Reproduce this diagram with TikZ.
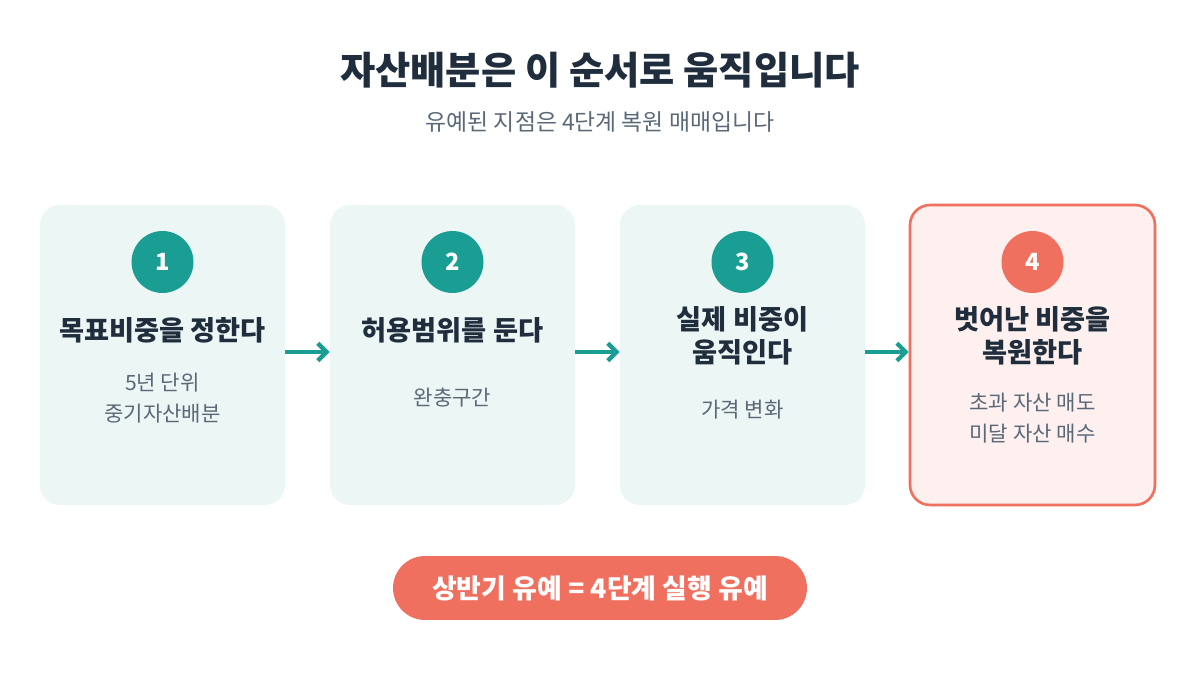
\documentclass[tikz,border=0pt]{standalone}
\usepackage{fontspec}
\setmainfont{Noto Sans CJK KR}
\usetikzlibrary{arrows.meta,positioning}
\definecolor{navy}{HTML}{1F2D3D}
\definecolor{teal}{HTML}{1A9E94}
\definecolor{coral}{HTML}{F07060}
\definecolor{softteal}{HTML}{EBF6F5}
\definecolor{softcoral}{HTML}{FDF0EE}
\definecolor{slate}{HTML}{5A6878}
\begin{document}
\begin{tikzpicture}[
    x=0.02cm, y=-0.02cm,
    card/.style={rectangle, rounded corners=0.4cm, minimum width=4.9cm, minimum height=6cm, fill=softteal},
    hotcard/.style={card, fill=softcoral, draw=coral, line width=1.5pt},
    badge/.style={circle, fill=teal, minimum size=1.24cm, inner sep=0pt, text=white, font=\fontsize{13.5}{15}\selectfont\bfseries},
    head/.style={text=navy, align=center, font=\fontsize{15.5}{19}\selectfont\bfseries},
    body/.style={text=slate, align=center, font=\fontsize{12}{18}\selectfont},
    arrow/.style={-{Straight Barb[length=5pt,width=10pt]}, teal, line width=2.5pt}
]
    \useasboundingbox (0,0) rectangle (1200,675);
    \fill[white] (0,0) rectangle (1200,675);

    % --- Title ---
    \node[text=navy, font=\fontsize{21.8}{24}\selectfont\bfseries] (title) at (600,70) {자산배분은 이 순서로 움직입니다};
    \node[text=slate, font=\fontsize{13}{15}\selectfont] (sub) at (600,122) {유예된 지점은 4단계 복원 매매입니다};

    % --- Cards ---
    \node[card] (c1) at (162.5,355) {};
    \node[card] (c2) at (452.5,355) {};
    \node[card] (c3) at (742.5,355) {};
    \node[hotcard] (c4) at (1032.5,355) {};

    \node[badge] (b1) at (162.5,262) {1};
    \node[badge] (b2) at (452.5,262) {2};
    \node[badge] (b3) at (742.5,262) {3};
    \node[badge, fill=coral] (b4) at (1032.5,262) {4};

    \node[head] (h1) at (162.5,330) {목표비중을 정한다};
    \node[head] (h2) at (452.5,330) {허용범위를 둔다};
    \node[head] (h3) at (742.5,336) {실제 비중이\\움직인다};
    \node[head] (h4) at (1032.5,336) {벗어난 비중을\\복원한다};

    \node[body] (t1) at (162.5,398) {5년 단위\\중기자산배분};
    \node[body] (t2) at (452.5,398) {완충구간};
    \node[body] (t3) at (742.5,410) {가격 변화};
    \node[body] (t4) at (1032.5,418) {초과 자산 매도\\미달 자산 매수};

    % Flow
    \draw[arrow] (c1.east |- 0,352) -- (c2.west |- 0,352);
    \draw[arrow] (c2.east |- 0,352) -- (c3.west |- 0,352);
    \draw[arrow] (c3.east |- 0,352) -- (c4.west |- 0,352);

    % --- Bottom note ---
    \node[rectangle, rounded corners=0.64cm, fill=coral, minimum width=8.28cm, minimum height=1.28cm,
          text=white, font=\fontsize{15.3}{17}\selectfont\bfseries] (note) at (600,588) {상반기 유예 = 4단계 실행 유예};
\end{tikzpicture}
\end{document}
